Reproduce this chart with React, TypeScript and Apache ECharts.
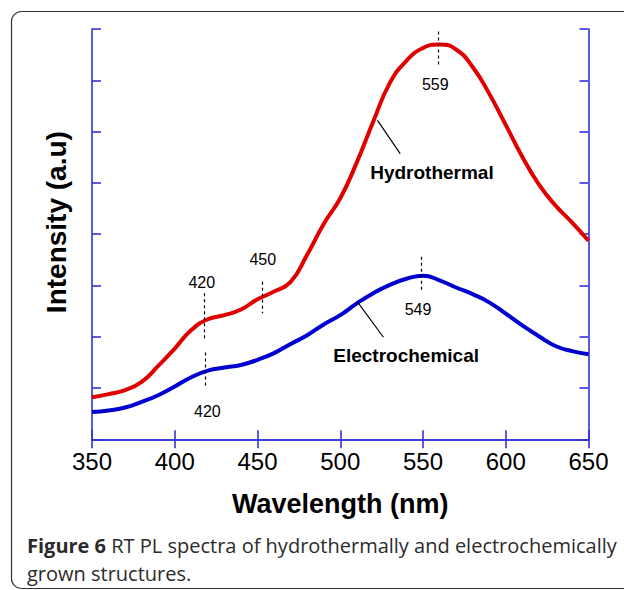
import React, { useEffect, useRef } from "react";
import * as echarts from "echarts";

const wavelengths = [350, 360, 370, 380, 390, 400, 410, 420, 430, 440, 450, 460, 470, 480, 490, 500, 510, 520, 530, 540, 550, 560, 570, 580, 590, 600, 610, 620, 630, 640, 650];
const hydrothermal = [0.82, 0.88, 0.96, 1.12, 1.43, 1.77, 2.13, 2.34, 2.42, 2.53, 2.73, 2.88, 3.07, 3.6, 4.2, 4.7, 5.4, 6.2, 6.95, 7.38, 7.63, 7.7, 7.6, 7.26, 6.74, 6.13, 5.51, 4.97, 4.56, 4.23, 3.87];
const electrochemical = [0.53, 0.56, 0.62, 0.73, 0.86, 1.03, 1.21, 1.34, 1.4, 1.45, 1.55, 1.68, 1.86, 2.03, 2.24, 2.42, 2.65, 2.85, 3.01, 3.13, 3.19, 3.1, 2.96, 2.83, 2.67, 2.45, 2.22, 2.01, 1.82, 1.72, 1.66];

// peak annotations: dashed marker from y1 to y2 at x, label at (lx, ly)
const peakMarks = [
  { label: "559", x: 559, y1: 7.95, y2: 7.26, lx: 557.4, ly: 6.91 },
  { label: "549", x: 549, y1: 3.56, y2: 2.88, lx: 547, ly: 2.54 },
  { label: "420", x: 418, y1: 2.85, y2: 1.94, lx: 416.3, ly: 3.06 },
  { label: "450", x: 452.8, y1: 3.07, y2: 2.46, lx: 453.2, ly: 3.5 },
  { label: "420", x: 418.3, y1: 1.69, y2: 0.99, lx: 419.7, ly: 0.54 },
];
// curve name labels with leader lines
const curveLabels = [
  { label: "Hydrothermal", from: [522.5, 6.22], to: [536.2, 5.57], at: [555.4, 5.2] },
  { label: "Electrochemical", from: [510.4, 2.68], to: [526.1, 1.99], at: [539.8, 1.63] },
];

const AXIS_BLUE = "#3232d6";
const FONT = "Liberation Sans, Arial, Helvetica, sans-serif";
const CAPTION_FONT = "Open Sans, Noto Sans, sans-serif";

export default function App() {
  const ref = useRef<HTMLDivElement>(null);
  useEffect(() => {
    if (!ref.current) return;
    const chart = echarts.init(ref.current, null, { renderer: "svg" });
    const axisCommon = {
      min: 350,
      max: 650,
      interval: 50,
      axisLine: { show: true, lineStyle: { color: AXIS_BLUE, width: 1.6 } },
      axisTick: { show: true, inside: true, length: 9, lineStyle: { color: AXIS_BLUE, width: 1.6 } },
      splitLine: { show: false },
    };
    const yCommon = {
      min: 0,
      max: 8,
      interval: 1,
      axisLine: { show: true, lineStyle: { color: AXIS_BLUE, width: 1.6 } },
      axisTick: { show: true, inside: true, length: 9, lineStyle: { color: AXIS_BLUE, width: 1.6 } },
      splitLine: { show: false },
      axisLabel: { show: false },
    };
    const dashed = peakMarks.map((p) => [
      { coord: [p.x, p.y1], lineStyle: { type: [3, 3], color: "#000", width: 1.2 } },
      { coord: [p.x, p.y2] },
    ]);
    const leaders = curveLabels.map((c) => [
      { coord: c.from, lineStyle: { type: "solid", color: "#000", width: 1.2 } },
      { coord: c.to },
    ]);
    chart.setOption({
      animation: false,
      grid: { left: 92, right: 35.5, top: 29, bottom: 150.7 },
      xAxis: [
        {
          type: "value",
          position: "bottom",
          ...axisCommon,
          axisLabel: { show: true, fontSize: 24, color: "#000", fontFamily: FONT, margin: 10 },
          name: "Wavelength (nm)",
          nameLocation: "middle",
          nameGap: 51,
          nameTextStyle: { fontSize: 27, fontWeight: "bold", color: "#000", fontFamily: FONT },
        },
        { type: "value", position: "top", ...axisCommon, axisLabel: { show: false } },
      ],
      yAxis: [
        {
          type: "value",
          position: "left",
          ...yCommon,
          name: "Intensity (a.u)",
          nameLocation: "middle",
          nameGap: 22,
          nameTextStyle: { fontSize: 28, fontWeight: "bold", color: "#000", fontFamily: FONT, padding: [0, 0, 0, 24] },
        },
        { type: "value", position: "right", ...yCommon },
      ],
      series: [
        {
          name: "Hydrothermal",
          type: "line",
          data: wavelengths.map((w, i) => [w, hydrothermal[i]]),
          smooth: 0.5,
          symbol: "none",
          lineStyle: { color: "#e00000", width: 4 },
          markLine: {
            silent: true,
            symbol: ["none", "none"],
            label: { show: false },
            data: [...dashed, ...leaders],
          },
          z: 3,
        },
        {
          name: "Electrochemical",
          type: "line",
          data: wavelengths.map((w, i) => [w, electrochemical[i]]),
          smooth: 0.5,
          symbol: "none",
          lineStyle: { color: "#0000d0", width: 4 },
          z: 3,
        },
        {
          type: "scatter",
          symbolSize: 0,
          silent: true,
          itemStyle: { opacity: 1 },
          data: peakMarks.map((p) => ({ name: p.label, value: [p.lx, p.ly] })),
          label: { show: true, position: "inside", formatter: "{b}", fontSize: 16, color: "#000", fontFamily: FONT },
        },
        {
          type: "scatter",
          symbolSize: 0,
          silent: true,
          itemStyle: { opacity: 1 },
          data: curveLabels.map((c) => ({ name: c.label, value: c.at })),
          label: { show: true, position: "inside", formatter: "{b}", fontSize: 19, fontWeight: "bold", color: "#000", fontFamily: FONT },
        },
      ],
      graphic: [
        {
          type: "rect",
          shape: { x: 11.5, y: 11.5, width: 700, height: 577, r: [10, 0, 0, 10] },
          style: { fill: "none", stroke: "#333", lineWidth: 1.2 },
          silent: true,
        },
        {
          type: "text",
          x: 27,
          y: 531,
          style: {
            text: "{b|Figure 6} RT PL spectra of hydrothermally and electrochemically\ngrown structures.",
            fontSize: 20,
            fontFamily: CAPTION_FONT,
            fill: "#2b2b2b",
            lineHeight: 28,
            rich: {
              b: { fontWeight: "bold", fontSize: 20, fontFamily: CAPTION_FONT, fill: "#2b2b2b", lineHeight: 28 },
            },
          },
        },
      ],
    });
    return () => chart.dispose();
  }, []);
  return <div ref={ref} style={{ position: "absolute", left: 0, top: 0, width: 624, height: 590 }} />;
}
